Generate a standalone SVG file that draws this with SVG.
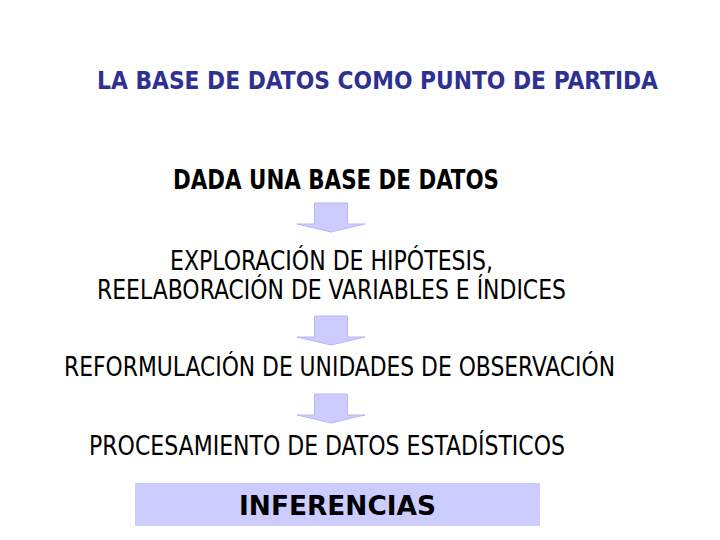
<svg xmlns="http://www.w3.org/2000/svg" width="720" height="540" viewBox="0 0 720 540">
<defs>
<style>
.t{font-family:"DejaVu Sans Condensed","DejaVu Sans",Verdana,sans-serif;font-size:26px;fill:#000}
.b{font-weight:bold}
.title{font-family:"DejaVu Sans Condensed","DejaVu Sans",Verdana,sans-serif;font-size:25px;font-weight:bold;fill:#2e3192}
.arrow{fill:#ccccff;stroke:#b8b8f0;stroke-width:1}
.box{fill:#ccccff}
</style>
<path id="arr" class="arrow" d="M-16.5,0 H16.5 V21 H34 L0,29 L-34,21 H-16.5 Z"/>
</defs>
<rect width="720" height="540" fill="#fff"/>
<text id="title" class="title" x="97" y="89" textLength="561" lengthAdjust="spacingAndGlyphs">LA BASE DE DATOS COMO PUNTO DE PARTIDA</text>
<g id="n1"><text class="t b" x="173" y="189" textLength="326" lengthAdjust="spacingAndGlyphs">DADA UNA BASE DE DATOS</text></g>
<g id="n2">
<text class="t" x="170" y="270" textLength="323" lengthAdjust="spacingAndGlyphs">EXPLORACIÓN DE HIPÓTESIS,</text>
<text class="t" x="97" y="299" textLength="469" lengthAdjust="spacingAndGlyphs">REELABORACIÓN DE VARIABLES E ÍNDICES</text>
</g>
<g id="n3"><text class="t" x="64" y="376" textLength="551" lengthAdjust="spacingAndGlyphs">REFORMULACIÓN DE UNIDADES DE OBSERVACIÓN</text></g>
<g id="n4"><text class="t" x="89" y="455" textLength="476" lengthAdjust="spacingAndGlyphs">PROCESAMIENTO DE DATOS ESTADÍSTICOS</text></g>
<g id="n5">
<rect class="box" x="135" y="483" width="405" height="43"/>
<text class="t b" x="239" y="515" textLength="197" lengthAdjust="spacingAndGlyphs">INFERENCIAS</text>
</g>
<g id="connectors">
<use href="#arr" x="331" y="203"/>
<use href="#arr" x="331" y="316"/>
<use href="#arr" x="331" y="394"/>
</g>
</svg>
